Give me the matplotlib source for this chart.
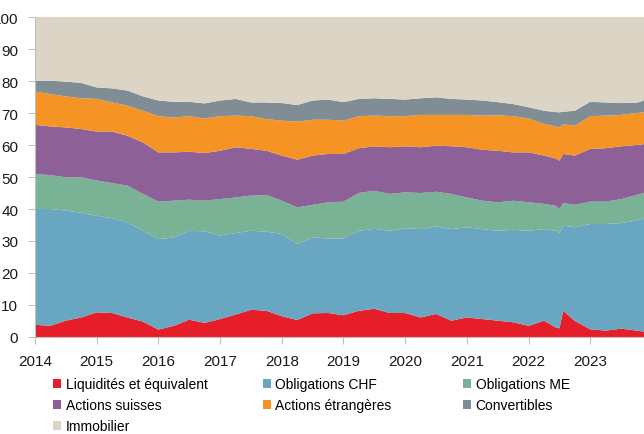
import matplotlib.pyplot as plt
from matplotlib.patches import Patch

plt.rcParams['font.family'] = ['Liberation Sans', 'DejaVu Sans']

# quarterly readings (decimal years), a few extra points around mid-2022
dates = [2014.0, 2014.25, 2014.5, 2014.75, 2015.0, 2015.25, 2015.5, 2015.75,
         2016.0, 2016.25, 2016.5, 2016.75, 2017.0, 2017.25, 2017.5, 2017.75,
         2018.0, 2018.25, 2018.5, 2018.75, 2019.0, 2019.25, 2019.5, 2019.75,
         2020.0, 2020.25, 2020.5, 2020.75, 2021.0, 2021.25, 2021.5, 2021.75,
         2022.0, 2022.25, 2022.44, 2022.5, 2022.56, 2022.75,
         2023.0, 2023.25, 2023.5, 2023.75, 2023.87]

liquidites = [3.8, 3.5, 5.1, 6.1, 7.7, 7.5, 6.1, 4.8,
              2.3, 3.5, 5.4, 4.4, 5.6, 7.0, 8.5, 8.2,
              6.5, 5.3, 7.4, 7.5, 6.8, 8.2, 8.8, 7.5,
              7.5, 6.1, 7.2, 5.1, 6.1, 5.6, 5.1, 4.6,
              3.5, 5.1, 3.0, 2.7, 8.2, 5.0,
              2.4, 2.0, 2.6, 2.0, 1.7]
oblig_chf = [36.2, 36.5, 34.4, 32.7, 30.2, 29.6, 29.7, 28.4,
             28.3, 27.6, 27.8, 28.6, 26.1, 25.5, 24.7, 24.7,
             25.7, 23.8, 23.7, 23.3, 24.0, 25.0, 25.0, 25.7,
             26.5, 27.6, 27.4, 28.6, 28.2, 28.1, 28.1, 28.9,
             29.7, 28.6, 30.2, 29.8, 26.6, 29.3,
             32.9, 33.3, 33.0, 34.4, 35.4]
oblig_me = [10.9, 10.6, 10.4, 11.1, 11.0, 11.0, 11.5, 11.5,
            11.7, 11.5, 9.7, 9.6, 11.4, 11.1, 11.0, 11.5,
            10.4, 11.4, 10.2, 11.3, 11.5, 11.8, 11.9, 11.5,
            11.2, 11.3, 10.8, 11.0, 9.3, 8.9, 8.9, 9.1,
            8.9, 7.9, 7.8, 7.5, 7.1, 7.0,
            7.0, 7.0, 7.5, 8.0, 7.9]
actions_ch = [15.4, 15.2, 15.6, 15.1, 15.3, 16.1, 15.6, 16.1,
              15.4, 15.1, 15.0, 14.9, 15.1, 15.7, 14.6, 13.8,
              14.1, 14.9, 15.4, 15.1, 14.9, 14.0, 13.9, 14.6,
              14.4, 14.3, 14.4, 14.9, 15.7, 15.9, 16.1, 15.1,
              15.6, 15.1, 14.8, 15.1, 15.3, 15.4,
              16.5, 16.7, 16.5, 15.6, 15.3]
actions_etr = [10.4, 10.1, 9.7, 9.6, 10.2, 9.1, 9.4, 9.9,
               11.3, 10.9, 11.1, 10.8, 10.8, 9.9, 10.2, 9.9,
               10.9, 11.9, 11.2, 10.7, 10.4, 10.0, 9.6, 9.7,
               9.4, 10.1, 9.6, 9.8, 10.1, 10.7, 11.1, 11.3,
               10.6, 9.9, 10.0, 10.4, 9.3, 9.3,
               10.2, 10.2, 9.8, 10.0, 9.9]
convertibles = [3.4, 4.2, 4.6, 4.8, 3.6, 4.4, 4.7, 4.5,
                4.9, 4.9, 4.5, 4.7, 4.9, 5.2, 4.3, 5.2,
                5.5, 5.2, 6.0, 6.3, 5.8, 5.4, 5.4, 5.4,
                5.2, 5.2, 5.5, 5.0, 4.8, 4.7, 4.1, 3.8,
                3.5, 4.1, 4.5, 4.7, 3.9, 4.7,
                4.5, 4.1, 3.7, 3.2, 3.7]
immobilier = [19.9, 19.9, 20.2, 20.6, 22.0, 22.3, 23.0, 24.8,
              26.1, 26.5, 26.5, 27.0, 26.1, 25.6, 26.7, 26.7,
              26.9, 27.5, 26.1, 25.8, 26.6, 25.6, 25.4, 25.6,
              25.8, 25.4, 25.1, 25.6, 25.8, 26.1, 26.6, 27.2,
              28.2, 29.3, 29.7, 29.8, 29.6, 29.3,
              26.5, 26.7, 26.9, 26.8, 26.1]

labels = ['Liquidités et équivalent', 'Obligations CHF', 'Obligations ME',
          'Actions suisses', 'Actions étrangères', 'Convertibles', 'Immobilier']
colors = ['#E61E2A', '#68A6C2', '#79B295', '#8D6198', '#F59425', '#808D95', '#DCD5C6']
years = list(range(2014, 2024))

fig = plt.figure(figsize=(6.44, 4.35), dpi=100)
ax = fig.add_axes([0.0543, 0.223, 0.9457, 0.7356])
ax.stackplot(dates, liquidites, oblig_chf, oblig_me, actions_ch, actions_etr,
             convertibles, immobilier, colors=colors, linewidth=0)

ax.set_xlim(2014, 2023.87)
ax.set_ylim(0, 100)
ax.set_xticks(years)
ax.set_xticklabels([str(y) for y in years])
ax.set_yticks(range(0, 101, 10))
ax.tick_params(axis='both', length=5, color='#BFBFBF', labelsize=11,
               labelcolor='#1a1a1a', pad=7)
for s in ['top', 'right']:
    ax.spines[s].set_visible(False)
for s in ['left', 'bottom']:
    ax.spines[s].set_color('#BFBFBF')

# legend: three columns placed separately, filled row by row
handles = [Patch(facecolor=c, edgecolor='none') for c in colors]
cols = [[0, 3, 6], [1, 4], [2, 5]]
xs = [0.0823, 0.408, 0.719]
for idx, x in zip(cols, xs):
    fig.legend([handles[i] for i in idx], [labels[i] for i in idx],
               loc='upper left', bbox_to_anchor=(x, 0.13), frameon=False,
               fontsize=10, handlelength=0.6, handleheight=0.6,
               handletextpad=0.3, labelspacing=0.5, borderpad=0,
               borderaxespad=0)

fig.savefig('out.png', dpi=100)
